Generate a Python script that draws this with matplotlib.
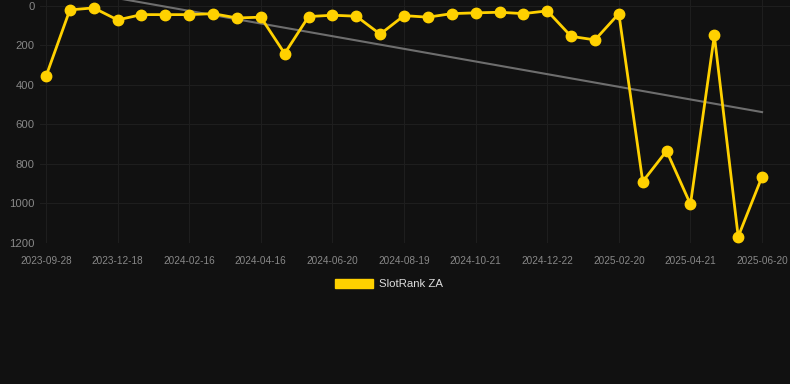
import numpy as np
import matplotlib
matplotlib.use("Agg")
import matplotlib.pyplot as plt
from matplotlib.patches import Patch

plt.rcParams['font.family'] = ['Liberation Sans', 'DejaVu Sans']

# rank per snapshot (31 snapshots, every 3rd one labelled)
ranks = [357, 20, 10, 71, 44, 44, 44, 39, 61, 57, 241, 54, 47, 52, 143,
         49, 57, 39, 35, 32, 39, 25, 154, 172, 39, 889, 734, 1004, 149, 1168, 864]
tick_labels = ['2023-09-28', '2023-12-18', '2024-02-16', '2024-04-16', '2024-06-20',
               '2024-08-19', '2024-10-21', '2024-12-22', '2025-02-20', '2025-04-21',
               '2025-06-20']
series_name = 'SlotRank ZA'

bg = '#111111'
gold = '#FFD100'

x = np.arange(len(ranks))
slope, icpt = np.polyfit(x, ranks, 1)

fig = plt.figure(figsize=(7.9, 3.84), dpi=100, facecolor=bg)
ax = fig.add_axes([40 / 790, 141 / 384, 750 / 790, 243 / 384], facecolor=bg)

ax.plot(x, slope * x + icpt, color='#6e6e6e', lw=1.5, zorder=2)
ax.plot(x, ranks, color=gold, lw=2.0, marker='o', ms=7.5, zorder=3,
        solid_joinstyle='miter')

ax.set_xlim(-0.25, 31.17)
ax.set_ylim(1200, -30)
ax.set_yticks(range(0, 1201, 200))
ax.set_xticks(x[::3])
ax.set_xticklabels(tick_labels)

ax.grid(True, color='#1e1e1e', lw=0.8)
ax.set_axisbelow(True)
for s in ax.spines.values():
    s.set_visible(False)
ax.tick_params(axis='y', colors='#888888', labelsize=8.1, length=0, pad=4)
ax.tick_params(axis='x', colors='#888888', labelsize=7.2, length=0, pad=9)

fig.legend(handles=[Patch(facecolor=gold, edgecolor=gold)], labels=[series_name],
           loc='center', bbox_to_anchor=(389 / 790, 1 - 284 / 384), frameon=False,
           handlelength=3.3, handleheight=0.9, handletextpad=0.5,
           fontsize=8.2, labelcolor='#dddddd')

fig.savefig('out.png', dpi=100, facecolor=bg)
